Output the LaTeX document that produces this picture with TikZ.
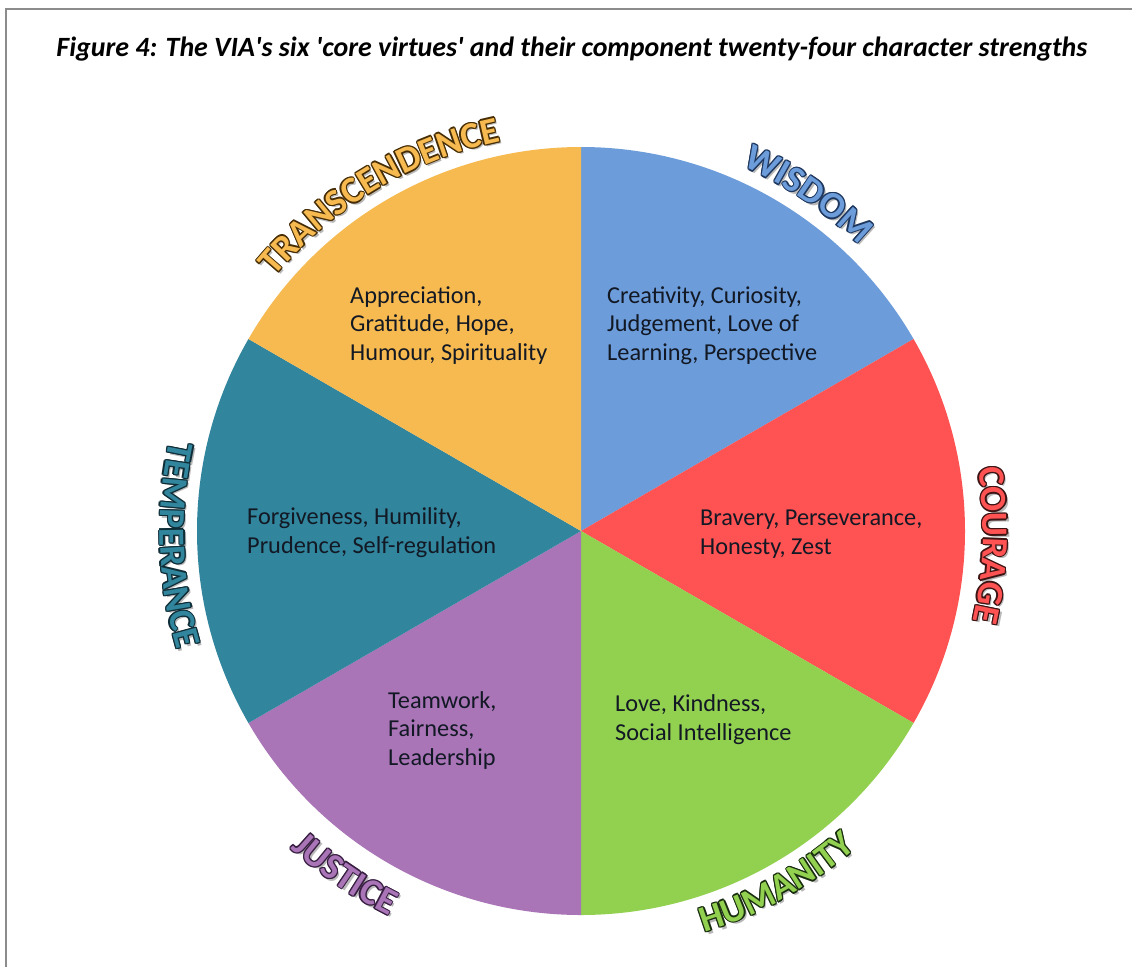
\documentclass[tikz,border=0pt]{standalone}
\usepackage{fontspec}
\usepackage{graphicx}
\setmainfont{Carlito}[Ligatures=TeXOff]
\usetikzlibrary{decorations.text}
\definecolor{wisdomc}{RGB}{108,157,218}
\definecolor{couragec}{RGB}{255,82,82}
\definecolor{humanityc}{RGB}{146,208,80}
\definecolor{justicec}{RGB}{169,117,183}
\definecolor{temperancec}{RGB}{49,133,156}
\definecolor{transcc}{RGB}{246,186,80}
\definecolor{wisdomo}{RGB}{30,55,95}
\definecolor{courageo}{RGB}{60,20,20}
\definecolor{humanityo}{RGB}{25,45,15}
\definecolor{justiceo}{RGB}{55,30,65}
\definecolor{temperanceo}{RGB}{15,45,55}
\definecolor{transco}{RGB}{70,45,5}
\definecolor{txtc}{RGB}{18,24,36}
\definecolor{framec}{RGB}{140,140,140}
\newcommand\labfont{\bfseries\fontsize{37}{40}\selectfont}
\newcommand\arclabel[6]{%
  \path[decorate,decoration={text along path,text align=center,text={|\labfont\color{black!28}|#1}},shift={(2.5pt,-2.5pt)}]
    ([shift={(#4:#6pt)}]581,-531) arc[start angle=#4,end angle=#5,radius=#6pt];
  \foreach \ang in {0,45,...,315}{%
    \path[decorate,decoration={text along path,text align=center,text={|\labfont\color{#3}|#1}},shift={(\ang:1.3pt)}]
      ([shift={(#4:#6pt)}]581,-531) arc[start angle=#4,end angle=#5,radius=#6pt];
  }
  \path[decorate,decoration={text along path,text align=center,text={|\labfont\color{#2}|#1}}]
    ([shift={(#4:#6pt)}]581,-531) arc[start angle=#4,end angle=#5,radius=#6pt];
}
\tikzset{
  sector/.style={draw=none},
  txt/.style={font=\fontsize{24.3}{28.5}\selectfont, align=left, inner sep=0pt, text=txtc, anchor=base west},
}
\begin{document}
\begin{tikzpicture}[x=1pt,y=1pt]
\useasboundingbox (0,0) rectangle (1132,-967);
\fill[white] (0,0) rectangle (1132,-967);
\draw[framec, line width=1.6pt] (6,-967) -- (6,-9) -- (1132,-9);
\node[anchor=base, inner sep=0pt] (title) at (572,-56)
  {\resizebox{1031pt}{!}{\bfseries\itshape Figure 4: The VIA's six 'core virtues' and their component twenty-four character strengths}};
% sectors
\coordinate (C) at (581,-531);
\fill[sector, wisdomc] (581,-531) -- ++(90:384pt) arc[start angle=90,end angle=30,radius=384pt] -- cycle;
\fill[sector, couragec] (581,-531) -- ++(30:384pt) arc[start angle=30,end angle=-30,radius=384pt] -- cycle;
\fill[sector, humanityc] (581,-531) -- ++(-30:384pt) arc[start angle=-30,end angle=-90,radius=384pt] -- cycle;
\fill[sector, justicec] (581,-531) -- ++(-90:384pt) arc[start angle=-90,end angle=-150,radius=384pt] -- cycle;
\fill[sector, temperancec] (581,-531) -- ++(210:384pt) arc[start angle=210,end angle=150,radius=384pt] -- cycle;
\fill[sector, transcc] (581,-531) -- ++(150:384pt) arc[start angle=150,end angle=90,radius=384pt] -- cycle;
% strengths (base anchor = baseline of last line)
\node[txt] (wisdomtxt) at (607,-360) {Creativity, Curiosity,\\Judgement, Love of\\Learning, Perspective};
\node[txt] (transctxt) at (350,-360) {Appreciation,\\Gratitude, Hope,\\Humour, Spirituality};
\node[txt] (temperancetxt) at (247,-553) {Forgiveness, Humility,\\Prudence, Self-regulation};
\node[txt] (couragetxt) at (700,-554) {Bravery, Perseverance,\\Honesty, Zest};
\node[txt] (justicetxt) at (388,-765) {Teamwork,\\Fairness,\\Leadership};
\node[txt] (humanitytxt) at (615,-740) {Love, Kindness,\\Social Intelligence};
% curved virtue labels
\arclabel{TRANSCENDENCE}{transcc}{transco}{161}{81}{398}
\arclabel{WISDOM}{wisdomc}{wisdomo}{96}{16}{399}
\arclabel{COURAGE}{couragec}{courageo}{38}{-42}{402}
\arclabel{TEMPERANCE}{temperancec}{temperanceo}{142}{222}{421}
\arclabel{JUSTICE}{justicec}{justiceo}{195.5}{275.5}{430}
\arclabel{HUMANITY}{humanityc}{humanityo}{259}{339}{420}
\end{tikzpicture}
\end{document}
